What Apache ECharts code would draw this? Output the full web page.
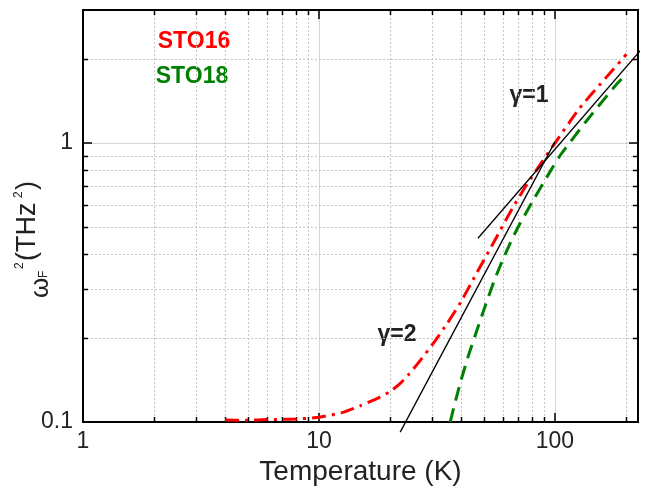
<!DOCTYPE html>
<html>
<head>
<meta charset="utf-8">
<title>omega_F^2 vs T</title>
<script src="https://cdn.jsdelivr.net/npm/echarts@6/dist/echarts.min.js"></script>
<style>
  html, body { margin: 0; padding: 0; background: #fff; }
  #chart { width: 649px; height: 491px; }
</style>
</head>
<body>
<div id="chart"></div>
<script>
// data (T in K, omega_F^2 in THz^2)
var sto16 = [[4, 0.1016], [5, 0.1015], [6, 0.102], [8, 0.1025], [10, 0.104], [12.5, 0.108],
  [15, 0.1144], [17.5, 0.121], [20, 0.1285], [22, 0.137], [24, 0.148], [27, 0.167], [31, 0.195],
  [35, 0.226], [40, 0.27], [46, 0.335], [55, 0.44], [65, 0.57], [76, 0.71], [88, 0.855],
  [98, 0.975], [127, 1.33], [165, 1.72], [201, 2.08]];
var sto18 = [[36, 0.1], [38, 0.12], [40, 0.141], [43, 0.173], [46, 0.205], [51, 0.265],
  [56, 0.33], [62, 0.405], [69, 0.49], [81, 0.625], [92, 0.75], [105, 0.9], [136, 1.2],
  [182, 1.62], [201, 1.77]];
var gamma1 = [[47.2, 0.456], [236, 2.2]];
var gamma2 = [[22.1, 0.092], [100, 1.01]];

var xRange = [1, 225];
var yRange = [0.1, 3];
var xMinor = [2, 3, 4, 5, 6, 7, 8, 9, 20, 30, 40, 50, 60, 70, 80, 90, 200];
var yMinor = [0.2, 0.3, 0.4, 0.5, 0.6, 0.7, 0.8, 0.9, 2];

var font = 'Liberation Sans';
var chart = echarts.init(document.getElementById('chart'));

// dotted minor grid + short minor ticks on both sides
function xMinorItem(params, api) {
  var cs = params.coordSys;
  var x = Math.round(api.coord([api.value(0), 1])[0]) + 0.5;
  var top = cs.y, bot = cs.y + cs.height;
  return {
    type: 'group', children: [
      {type: 'line', shape: {x1: x, y1: top, x2: x, y2: bot}, style: {stroke: '#c4c4c4', lineWidth: 1, lineDash: [2, 2]}},
      {type: 'line', shape: {x1: x, y1: bot, x2: x, y2: bot - 5}, style: {stroke: '#000', lineWidth: 1.5}},
      {type: 'line', shape: {x1: x, y1: top, x2: x, y2: top + 5}, style: {stroke: '#000', lineWidth: 1.5}}
    ]
  };
}
function yMinorItem(params, api) {
  var cs = params.coordSys;
  var y = Math.round(api.coord([1, api.value(1)])[1]) + 0.5;
  var l = cs.x, r = cs.x + cs.width;
  return {
    type: 'group', children: [
      {type: 'line', shape: {x1: l, y1: y, x2: r, y2: y}, style: {stroke: '#c4c4c4', lineWidth: 1, lineDash: [2, 2]}},
      {type: 'line', shape: {x1: l, y1: y, x2: l + 5, y2: y}, style: {stroke: '#000', lineWidth: 1.5}},
      {type: 'line', shape: {x1: r, y1: y, x2: r - 5, y2: y}, style: {stroke: '#000', lineWidth: 1.5}}
    ]
  };
}

function frameAxis(pos, range) {
  return {
    type: 'log', logBase: 10, position: pos, min: range[0], max: range[1],
    axisLine: {show: true, onZero: false, lineStyle: {color: '#000', width: 2}},
    axisTick: {show: true, inside: true, length: 9, lineStyle: {color: '#000', width: 1.5}},
    axisLabel: {show: false},
    splitLine: {show: false}
  };
}

var option = {
  animation: false,
  backgroundColor: '#fff',
  grid: {left: 83, right: 11, top: 10, bottom: 68},
  xAxis: [{
    type: 'log', logBase: 10, min: xRange[0], max: xRange[1],
    name: 'Temperature (K)', nameLocation: 'middle', nameGap: 36,
    nameTextStyle: {fontFamily: font, fontSize: 28, color: '#222'},
    axisLine: {onZero: false, lineStyle: {color: '#000', width: 2}},
    axisTick: {inside: true, length: 9, lineStyle: {color: '#000', width: 1.5}},
    axisLabel: {fontFamily: font, fontSize: 23, color: '#222', margin: 8, showMaxLabel: false,
      formatter: function (v) { return String(+v.toPrecision(3)); }},
    splitLine: {show: true, lineStyle: {color: '#d6d6d6', width: 1}}
  }, frameAxis('top', xRange)],
  yAxis: [{
    type: 'log', logBase: 10, min: yRange[0], max: yRange[1],
    axisLine: {onZero: false, lineStyle: {color: '#000', width: 2}},
    axisTick: {inside: true, length: 9, lineStyle: {color: '#000', width: 1.5}},
    axisLabel: {fontFamily: font, fontSize: 23, color: '#222', margin: 10, showMaxLabel: false,
      formatter: function (v) { return String(+v.toPrecision(3)); }},
    splitLine: {show: true, lineStyle: {color: '#d6d6d6', width: 1}}
  }, frameAxis('right', yRange)],
  series: [
    {type: 'custom', name: 'xminor', renderItem: xMinorItem, data: xMinor.map(function (v) { return [v, 1]; }), z: 1, silent: true},
    {type: 'custom', name: 'yminor', renderItem: yMinorItem, data: yMinor.map(function (v) { return [1, v]; }), z: 1, silent: true},
    {type: 'line', name: 'STO16', data: sto16, showSymbol: false, smooth: 0.2, z: 4,
      lineStyle: {color: '#ff0000', width: 3, type: [14, 6, 3, 6]}},
    {type: 'line', name: 'STO18', data: sto18, showSymbol: false, smooth: 0.2, z: 4,
      lineStyle: {color: '#008000', width: 3, type: [14, 8]}},
    {type: 'line', name: 'gamma1', data: gamma1, showSymbol: false, clip: false, z: 5,
      lineStyle: {color: '#000', width: 1.3}},
    {type: 'line', name: 'gamma2', data: gamma2, showSymbol: false, clip: false, z: 5,
      lineStyle: {color: '#000', width: 1.3}}
  ],
  graphic: [
    {type: 'text', x: 194, y: 42, style: {text: 'STO16', fill: '#ff0000', font: 'bold 23px "Liberation Sans"', align: 'center', verticalAlign: 'middle'}},
    {type: 'text', x: 192, y: 77, style: {text: 'STO18', fill: '#008000', font: 'bold 23px "Liberation Sans"', align: 'center', verticalAlign: 'middle'}},
    {type: 'text', x: 529, y: 96, style: {text: 'γ=1', fill: '#222', font: 'bold 23px "Liberation Sans"', align: 'center', verticalAlign: 'middle'}},
    {type: 'text', x: 397, y: 335, style: {text: 'γ=2', fill: '#222', font: 'bold 23px "Liberation Sans"', align: 'center', verticalAlign: 'middle'}},
    // y axis title, rotated: omega_F^2 (THz^2)
    {type: 'group', x: 40, y: 298, rotation: Math.PI / 2, children: [
      {type: 'text', x: 0, y: 1, style: {text: 'ω', fill: '#222', font: '26px "Liberation Sans"', align: 'left', verticalAlign: 'middle'}},
      {type: 'text', x: 20, y: 4, style: {text: 'F', fill: '#222', font: '12px "Liberation Sans"', align: 'left', verticalAlign: 'middle'}},
      {type: 'text', x: 29, y: -20, style: {text: '2', fill: '#222', font: '12px "Liberation Sans"', align: 'left', verticalAlign: 'middle'}},
      {type: 'text', x: 37, y: -12, style: {text: '(THz', fill: '#222', font: '27px "Liberation Sans"', align: 'left', verticalAlign: 'middle'}},
      {type: 'text', x: 100, y: -21, style: {text: '2', fill: '#222', font: '12px "Liberation Sans"', align: 'left', verticalAlign: 'middle'}},
      {type: 'text', x: 108, y: -12, style: {text: ')', fill: '#222', font: '27px "Liberation Sans"', align: 'left', verticalAlign: 'middle'}}
    ]}
  ]
};
chart.setOption(option);
</script>
</body>
</html>
